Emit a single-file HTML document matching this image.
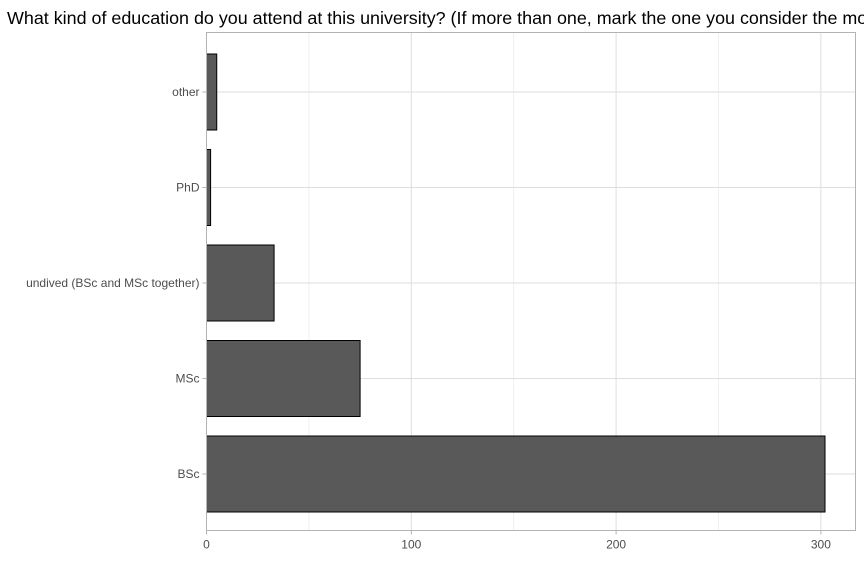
<!DOCTYPE html>
<html><head><meta charset="utf-8"><style>
body{margin:0;background:#fff;}
svg{display:block;font-family:"Liberation Sans",Arial,sans-serif;}
</style></head><body>
<svg id="chart" width="864" height="576" viewBox="0 0 864 576">
<text x="7" y="24" font-size="17.9" fill="#000">What kind of education do you attend at this university? (If more than one, mark the one you consider the most important.)</text>
<g id="grid"></g><g id="bars"></g><g id="axes"></g>
<rect x="206.5" y="32.5" width="649" height="498" fill="none" stroke="#b3b3b3" stroke-width="1"/>
</svg>
<script>
const categories = ["BSc","MSc","undived (BSc and MSc together)","PhD","other"];
const counts = [302, 75, 33, 2, 5];
const xTicks = [0,100,200,300];
const xMinor = [50,150,250];
const NS="http://www.w3.org/2000/svg";
const L=206.5,R=855.5,T=32.5,B=530.5;
const x=v=>L+v*2.048;
const step=95.5;
const yc=i=>474-step*i;
function mk(t,a,p){const e=document.createElementNS(NS,t);for(const k in a)e.setAttribute(k,a[k]);p.appendChild(e);return e;}
const g=document.getElementById('grid'),b=document.getElementById('bars'),ax=document.getElementById('axes');
xMinor.forEach(v=>{const e=mk('line',{x1:x(v),x2:x(v),y1:T,y2:B,stroke:'#ebebeb','stroke-width':0.8},g);

});
xTicks.forEach(v=>{const e=mk('line',{x1:x(v),x2:x(v),y1:T,y2:B,stroke:'#dedede','stroke-width':1},g);


const tk=mk('line',{x1:x(v),x2:x(v),y1:B,y2:B+4,stroke:'#b3b3b3'},ax);


const t=mk('text',{x:x(v),y:B+18,'font-size':12,fill:'#4d4d4d','text-anchor':'middle'},ax);t.textContent=v;

});
categories.forEach((c,i)=>{const gl=mk('line',{x1:L,x2:R,y1:yc(i),y2:yc(i),stroke:'#dedede'},g);


const bh=76;
const r=mk('rect',{x:L,y:yc(i)-bh/2,width:x(counts[i])-L,height:bh,fill:'#595959',stroke:'#000','stroke-width':1},b);


const tk=mk('line',{x1:L-4,x2:L,y1:yc(i),y2:yc(i),stroke:'#b3b3b3'},ax);


const t=mk('text',{x:L-7,y:yc(i)+4,'font-size':12,fill:'#4d4d4d','text-anchor':'end'},ax);t.textContent=c;

});
</script>
</body></html>
